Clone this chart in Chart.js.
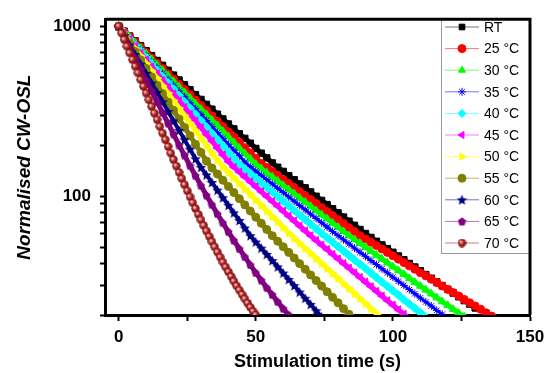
<!DOCTYPE html>
<html>
<head>
<meta charset="utf-8">
<script src="https://cdn.jsdelivr.net/npm/chart.js@4.4.0/dist/chart.umd.min.js"></script>
<style>
  html, body { margin: 0; padding: 0; background: #fff; }
  canvas { display: block; }
</style>
</head>
<body>
<canvas id="grafico" width="555" height="373"></canvas>
<script>
// values (log y axis)
const seriesNames = ['RT', '25 °C', '30 °C', '35 °C', '40 °C', '45 °C', '50 °C', '55 °C', '60 °C', '65 °C', '70 °C'];
const seriesColors = ['#000000', '#ff0000', '#00ff00', '#0000ff', '#00ffff', '#ff00ff', '#ffff00', '#808000', '#000080', '#800080', '#8b1a1a'];

const time2s = [0, 2, 4, 6, 8, 10, 12, 14, 16, 18, 20, 22, 24, 26, 28, 30, 32, 34, 36, 38, 40, 42, 44, 46, 48, 50,
  52, 54, 56, 58, 60, 62, 64, 66, 68, 70, 72, 74, 76, 78, 80, 82, 84, 86, 88, 90, 92, 94, 96, 98, 100,
  102, 104, 106, 108, 110, 112, 114, 116, 118, 120, 122, 124, 126, 128, 130, 132, 134, 136];
const time1s = [0, 1, 2, 3, 4, 5, 6, 7, 8, 9, 10, 11, 12, 13, 14, 15, 16, 17, 18, 19, 20, 21, 22, 23, 24, 25,
  26, 27, 28, 29, 30, 31, 32, 33, 34, 35, 36, 37, 38, 39, 40, 41, 42, 43, 44, 45, 46, 47, 48, 49, 50, 51];

const rtValues = [1000, 936, 876, 820, 767, 718, 672, 629, 589, 551, 516, 483, 452, 423, 396, 371, 347, 325, 304, 285,
  266, 249, 233, 219, 205, 191, 179, 168, 157, 148, 140, 132, 125, 118, 112, 106, 99.9, 94.5, 89.3, 84.4,
  79.8, 75.4, 71.3, 67.4, 63.7, 60.3, 57.2, 54.3, 51.7, 49.2, 46.8, 44.5, 42.3, 40.2, 38.3, 36.4, 34.6, 32.9,
  31.3, 29.8, 28.3, 26.9, 25.6, 24.3, 23.2, 22.0];
const c25Values = [1000, 931, 867, 807, 751, 700, 651, 606, 564, 525, 489, 455, 424, 395, 368, 342, 319, 297, 276, 257,
  239, 223, 208, 193, 180, 167, 156, 147.5, 139.7, 132.3, 125.3, 118.7, 112.4, 106.5, 100.9, 95.5, 90.5, 85.7,
  81.2, 76.9, 72.8, 69.0, 65.3, 61.9, 58.6, 56.0, 53.5, 51.2, 48.9, 46.7, 44.6, 42.6, 40.7, 38.9, 37.2, 35.5,
  34.0, 32.5, 31.0, 29.6, 28.3, 27.1, 25.9, 24.7, 23.6, 22.6, 21.6, 20.6, 19.7];
const c30Values = [1000, 928, 861, 799, 741, 688, 638, 592, 549, 510, 473, 439, 407, 378, 350, 325, 302, 280, 260, 241,
  224, 207, 192, 178, 166, 154, 145.5, 137.5, 129.9, 122.7, 115.9, 109.5, 103.4, 97.7, 92.3, 87.2, 82.4, 77.8,
  73.6, 69.5, 65.7, 62.0, 58.6, 55.6, 52.8, 50.1, 47.5, 45.1, 42.8, 40.6, 38.5, 36.6, 34.7, 32.9, 31.2, 29.6,
  28.1, 26.7, 25.3, 24.0, 22.8, 21.6, 20.5, 19.5];
const c35Values = [1000, 923, 852, 787, 727, 671, 619, 572, 528, 487, 450, 415, 384, 354, 327, 302, 279, 257, 237, 219,
  202, 187, 173, 159, 149, 140.6, 132.7, 125.2, 118.1, 111.4, 105.1, 99.1, 93.5, 88.2, 83.2, 78.5, 74.0, 69.8,
  65.9, 62.1, 58.6, 55.4, 52.4, 49.5, 46.8, 44.3, 41.8, 39.6, 37.4, 35.4, 33.4, 31.6, 29.9, 28.2, 26.7, 25.2,
  23.9, 22.6, 21.3, 20.2, 19.1];
const c40Values = [1000, 918, 843, 774, 711, 653, 599, 550, 505, 464, 426, 391, 359, 330, 303, 278, 255, 234, 215, 198,
  181, 166, 153.5, 144.2, 135.5, 127.4, 119.7, 112.5, 105.7, 99.4, 93.4, 87.8, 82.5, 77.5, 72.9, 68.5, 64.3,
  60.4, 56.9, 53.6, 50.5, 47.6, 44.8, 42.2, 39.8, 37.5, 35.3, 33.2, 31.3, 29.5, 27.8, 26.2, 24.6, 23.2, 21.9,
  20.6, 19.4];
const c45Values = [1000, 912, 833, 760, 693, 632, 577, 526, 480, 438, 400, 365, 333, 304, 277, 253, 231, 211, 192, 175,
  160, 148.3, 138.8, 130, 121.6, 113.8, 106.5, 99.7, 93.3, 87.3, 81.7, 76.4, 71.5, 66.9, 62.6, 58.6, 55.0, 51.7,
  48.6, 45.6, 42.8, 40.2, 37.8, 35.5, 33.3, 31.3, 29.4, 27.6, 25.9, 24.3, 22.9, 21.5, 20.2, 19.0];
const c50Values = [1000, 904, 817, 739, 668, 604, 546, 494, 446, 404, 365, 330, 298, 270, 244, 220, 199, 180, 163, 149.2,
  138.4, 128.5, 119.2, 110.6, 102.7, 95.3, 88.4, 82.0, 76.1, 70.7, 65.6, 60.8, 56.6, 52.9, 49.4, 46.2, 43.1,
  40.3, 37.6, 35.2, 32.9, 30.7, 28.7, 26.8, 25.0, 23.4, 21.8, 20.4, 19.1];
const c55Values = [1000, 892, 796, 710, 634, 565, 504, 450, 402, 358, 320, 285, 254, 227, 202, 181, 161, 146.6, 135,
  124.2, 114.2, 105.1, 96.7, 88.9, 81.8, 75.3, 69.3, 63.7, 58.6, 54.3, 50.4, 46.7, 43.3, 40.1, 37.2, 34.4, 31.9,
  29.6, 27.4, 25.4, 23.6, 21.8, 20.2, 18.8];
const c60Values = [1000, 880, 774, 681, 599, 527, 463, 408, 359, 315, 277, 244, 215, 189, 166, 147.8, 133.4, 120.4,
  108.6, 98.0, 88.4, 79.8, 72.0, 65.0, 58.6, 53.8, 49.5, 45.5, 41.8, 38.4, 35.3, 32.4, 29.8, 27.3, 25.1, 23.1,
  21.2, 19.5];
const c65Values = [1000, 864, 746, 645, 557, 481, 416, 359, 310, 268, 232, 200, 174, 151, 132, 115.4, 101.2, 89.1,
  78.6, 69.6, 61.7, 54.9, 49.0, 43.9, 39.4, 35.4, 32.0, 28.9, 26.3, 23.9, 21.8, 20.0, 18.4];
const c70Values = [1000, 913, 834, 762, 696, 636, 581, 531, 485, 443, 404, 369, 337, 308, 282, 257, 235, 215, 196, 179,
  164, 150.5, 138.1, 126.9, 116.7, 107.5, 99.1, 91.5, 84.6, 78.2, 72.5, 67.2, 62.4, 58.0, 54.0, 50.3, 46.9, 43.8,
  40.9, 38.3, 35.9, 33.7, 31.6, 29.7, 28.0, 26.4, 24.9, 23.5, 22.2, 21.0, 20.0, 18.9];

const xTickValues = [0, 25, 50, 75, 100, 125, 150];
const xTickLabels = [0, 50, 100, 150];
const yTickValues = [20, 30, 40, 50, 60, 70, 80, 90, 100, 200, 300, 400, 500, 600, 700, 800, 900, 1000];
const yTickLabels = [100, 1000];

const seriesValues = [rtValues, c25Values, c30Values, c35Values, c40Values, c45Values, c50Values, c55Values, c60Values, c65Values, c70Values];
const seriesTimes = [time2s, time2s, time2s, time2s, time2s, time2s, time2s, time2s, time2s, time2s, time1s];

// small canvas markers for the styles Chart.js lacks
function makeMarker(size, draw) {
  const c = document.createElement('canvas');
  c.width = size; c.height = size;
  draw(c.getContext('2d'), size);
  return c;
}
const starMarker = makeMarker(11, (g, s) => {
  g.fillStyle = '#000080';
  g.beginPath();
  for (let i = 0; i < 10; i++) {
    const r = i % 2 ? s * 0.22 : s * 0.5;
    const a = -Math.PI / 2 + i * Math.PI / 5;
    g.lineTo(s / 2 + r * Math.cos(a), s / 2 + 0.5 + r * Math.sin(a));
  }
  g.closePath();
  g.fill();
});
const pentagonMarker = makeMarker(9, (g, s) => {
  g.fillStyle = '#800080';
  g.beginPath();
  for (let i = 0; i < 5; i++) {
    const a = -Math.PI / 2 + i * 2 * Math.PI / 5;
    g.lineTo(s / 2 + 4.3 * Math.cos(a), s / 2 + 0.4 + 4.3 * Math.sin(a));
  }
  g.closePath();
  g.fill();
});
const ballMarker = makeMarker(9, (g, s) => {
  const grad = g.createRadialGradient(3.2, 3.2, 0.5, 4.5, 4.5, 4.5);
  grad.addColorStop(0, '#f4c8c8');
  grad.addColorStop(0.45, '#b22222');
  grad.addColorStop(1, '#6b0f0f');
  g.fillStyle = grad;
  g.beginPath();
  g.arc(s / 2, s / 2, 4.2, 0, Math.PI * 2);
  g.fill();
});

const seriesMarkers = ['rect', 'circle', 'triangle', 'star', 'rectRot', 'triangle', 'triangle', 'circle', starMarker, pentagonMarker, ballMarker];
const seriesRotations = [0, 0, 0, 0, 0, -90, 90, 0, 0, 0, 0];
const seriesRadius = [4.5, 4, 4.5, 4, 4.5, 4.5, 4.5, 4, 4, 4, 4];
const seriesLineWidth = [5, 5, 5, 3, 5, 5, 5, 5, 4, 5, 1];

Chart.defaults.font.family = "'Liberation Sans', Arial, sans-serif";
Chart.defaults.color = '#000';

const datasets = seriesValues.map((vals, i) => ({
  label: seriesNames[i],
  data: vals.map((v, k) => ({ x: seriesTimes[i][k], y: v })),
  borderColor: seriesColors[i],
  backgroundColor: seriesColors[i],
  borderWidth: seriesLineWidth[i],
  pointStyle: seriesMarkers[i],
  pointRotation: seriesRotations[i],
  pointRadius: seriesRadius[i],
  pointBorderWidth: 1,
  order: seriesValues.length - i
}));

// legend box inside the plot, top right, plus the closed frame
const boxLegend = {
  id: 'boxLegend',
  afterDraw(chart) {
    const ctx = chart.ctx;
    const area = chart.chartArea;
    const left = 441, top = area.top, bottom = 253;
    ctx.save();
    ctx.fillStyle = '#fff';
    ctx.fillRect(left, top, area.right - left, bottom - top);
    ctx.strokeStyle = '#999';
    ctx.lineWidth = 1;
    ctx.strokeRect(left + 0.5, top, area.right - left, bottom - top + 0.5);

    chart.data.datasets.forEach((ds, i) => {
      const y = 27 + i * 21.6;
      ctx.globalAlpha = 0.55;
      ctx.strokeStyle = ds.borderColor;
      ctx.lineWidth = 1;
      ctx.beginPath();
      ctx.moveTo(445, y);
      ctx.lineTo(479, y);
      ctx.stroke();
      ctx.globalAlpha = 1;
      ctx.fillStyle = ds.backgroundColor;
      ctx.strokeStyle = ds.borderColor;
      ctx.lineWidth = 1;
      Chart.helpers.drawPoint(ctx, {
        pointStyle: ds.pointStyle,
        rotation: ds.pointRotation,
        radius: Math.min(ds.pointRadius, 4),
        borderWidth: 1
      }, 462, y);
      ctx.fillStyle = '#000';
      ctx.font = "14px 'Liberation Sans', Arial, sans-serif";
      ctx.textBaseline = 'middle';
      ctx.textAlign = 'left';
      ctx.fillText(seriesNames[i], 484, y + 1);
    });

    ctx.strokeStyle = '#000';
    ctx.lineWidth = 3;
    ctx.beginPath();
    ctx.moveTo(area.left, area.top);
    ctx.lineTo(area.right, area.top);
    ctx.lineTo(area.right, area.bottom);
    ctx.stroke();
    ctx.restore();
  }
};

new Chart(document.getElementById('grafico'), {
  type: 'line',
  data: { datasets: datasets },
  plugins: [boxLegend],
  options: {
    responsive: false,
    animation: false,
    layout: { padding: { top: 12, right: 25, left: 0, bottom: 0 } },
    plugins: { legend: { display: false }, tooltip: { enabled: false } },
    scales: {
      x: {
        type: 'linear',
        min: -5,
        max: 150,
        afterFit: (s) => { s.height = 58; },
        afterBuildTicks: (s) => { s.ticks = xTickValues.map(v => ({ value: v })); },
        border: { display: true, width: 3, color: '#000' },
        grid: { drawOnChartArea: false, tickLength: 6, tickWidth: 2, tickColor: '#000' },
        ticks: {
          autoSkip: false,
          maxRotation: 0,
          padding: 6,
          font: { size: 17, weight: 'bold' },
          callback: (v) => xTickLabels.includes(v) ? String(v) : ''
        },
        title: {
          display: true,
          text: 'Stimulation time (s)',
          font: { size: 18, weight: 'bold' },
          padding: { top: 0, bottom: 0 }
        }
      },
      y: {
        type: 'logarithmic',
        min: 20,
        max: 1100,
        afterFit: (s) => { s.width = 105; },
        afterBuildTicks: (s) => { s.ticks = yTickValues.map(v => ({ value: v })); },
        border: { display: true, width: 3, color: '#000' },
        grid: { drawOnChartArea: false, tickLength: 5, tickWidth: 2, tickColor: '#000' },
        ticks: {
          autoSkip: false,
          padding: 9,
          font: { size: 17, weight: 'bold' },
          callback: (v) => yTickLabels.includes(v) ? String(v) : ''
        },
        title: {
          display: true,
          text: 'Normalised CW-OSL',
          font: { size: 19, weight: 'bold', style: 'italic' },
          padding: { top: 13, bottom: 0 }
        }
      }
    }
  }
});
</script>
</body>
</html>
